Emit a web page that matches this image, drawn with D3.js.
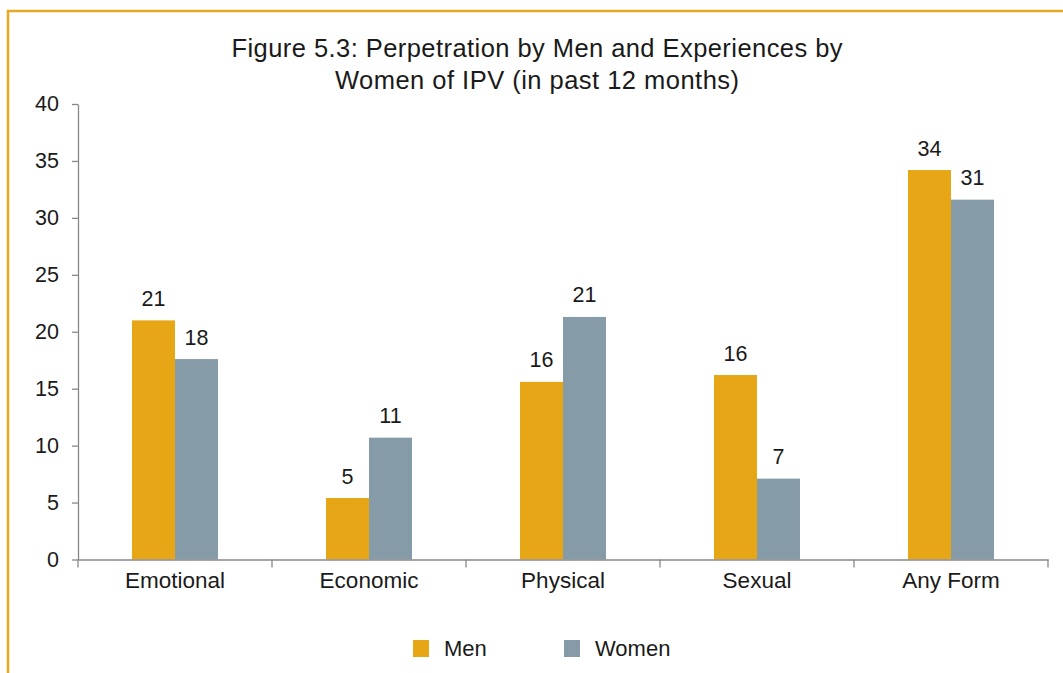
<!DOCTYPE html>
<html><head><meta charset="utf-8">
<script src="https://cdn.jsdelivr.net/npm/d3@7"></script>
<style>
body{margin:0;background:#fff;}
svg{display:block;font-family:"Liberation Sans",Arial,Helvetica,sans-serif;}
</style></head>
<body>
<script>
const categories = ["Emotional","Economic","Physical","Sexual","Any Form"];
const seriesNames = ["Men","Women"];
const menValues = [21.0, 5.4, 15.6, 16.2, 34.2];
const womenValues = [17.6, 10.7, 21.3, 7.1, 31.6];
const menLabels = ["21","5","16","16","34"];
const womenLabels = ["18","11","21","7","31"];
const yTicks = [0,5,10,15,20,25,30,35,40];
const titleLines = ["Figure 5.3: Perpetration by Men and Experiences by","Women of IPV (in past 12 months)"];
const colors = ["#E6A615","#859CA8"];

const W = 1063, H = 673;
const txt = "#1a1a1a";
const svg = d3.select("body").append("svg").attr("width",W).attr("height",H);

// frame
svg.append("path").attr("d","M8,673 L8,11 L1063,11").attr("fill","none")
  .attr("stroke","#E8A822").attr("stroke-width",2.5);

const x0 = d3.scaleBand().domain(categories).range([78,1048]);
const x1 = d3.scaleBand().domain(seriesNames).range([0,86]);
const y = d3.scaleLinear().domain([0,40]).range([559.5,104]);

// title
const titleWidths = [611, 404];
svg.append("g").selectAll("text").data(titleLines).join("text")
  .attr("x",537).attr("y",(d,i)=>57+i*32).attr("text-anchor","middle")
  .attr("font-size",25.5).attr("fill",txt)
  .attr("textLength",(d,i)=>titleWidths[i]).attr("lengthAdjust","spacing")
  .text(d=>d);

const data = categories.map((c,i)=>({c, vals:[
  {s:"Men",v:menValues[i],l:menLabels[i]},
  {s:"Women",v:womenValues[i],l:womenLabels[i]}]}));

const g = svg.append("g");
const grp = g.selectAll("g.cat").data(data).join("g")
  .attr("transform",d=>`translate(${x0(d.c)+x0.bandwidth()/2-43},0)`);
grp.selectAll("rect").data(d=>d.vals).join("rect")
  .attr("x",d=>x1(d.s)).attr("width",x1.bandwidth())
  .attr("y",d=>y(d.v)).attr("height",d=>y(0)-y(d.v))
  .attr("fill",(d,i)=>colors[i]);
grp.selectAll("text").data(d=>d.vals).join("text")
  .attr("x",d=>x1(d.s)+x1.bandwidth()/2).attr("y",d=>y(d.v)-14.5)
  .attr("text-anchor","middle").attr("font-size",21.5).attr("fill",txt)
  .text(d=>d.l);

// y axis
const ya = svg.append("g").attr("transform","translate(78,0)")
  .call(d3.axisLeft(y).tickValues(yTicks).tickSize(6).tickPadding(13).tickSizeOuter(0));
ya.select(".domain").attr("stroke","#888").attr("stroke-width",1.3);
ya.selectAll(".tick line").attr("stroke","#888").attr("stroke-width",1.3);
ya.selectAll(".tick text").attr("font-size",21.5).attr("fill",txt)
  .attr("font-family","Liberation Sans, Arial, sans-serif");

// x axis
const xa = svg.append("g").attr("transform",`translate(0,${y(0)})`)
  .call(d3.axisBottom(x0).tickSize(0).tickPadding(13));
xa.select(".domain").attr("stroke","#888").attr("stroke-width",1.3);
xa.selectAll(".tick text").attr("font-size",22.5).attr("fill",txt)
  .attr("font-family","Liberation Sans, Arial, sans-serif");
// boundary ticks
const bounds = categories.map(c=>x0(c)).concat([x0.range()[1]]);
svg.append("g").selectAll("line").data(bounds).join("line")
  .attr("x1",d=>d).attr("x2",d=>d).attr("y1",y(0)).attr("y2",y(0)+8)
  .attr("stroke","#888").attr("stroke-width",1.3);

// legend
const legX = [413,564];
const lg = svg.append("g").selectAll("g").data(seriesNames).join("g")
  .attr("transform",(d,i)=>`translate(${legX[i]},640)`);
lg.append("rect").attr("width",16).attr("height",17).attr("fill",(d,i)=>colors[i]);
lg.append("text").attr("x",31).attr("y",16).attr("font-size",22).attr("fill",txt)
  .text(d=>d);
</script>
</body></html>
